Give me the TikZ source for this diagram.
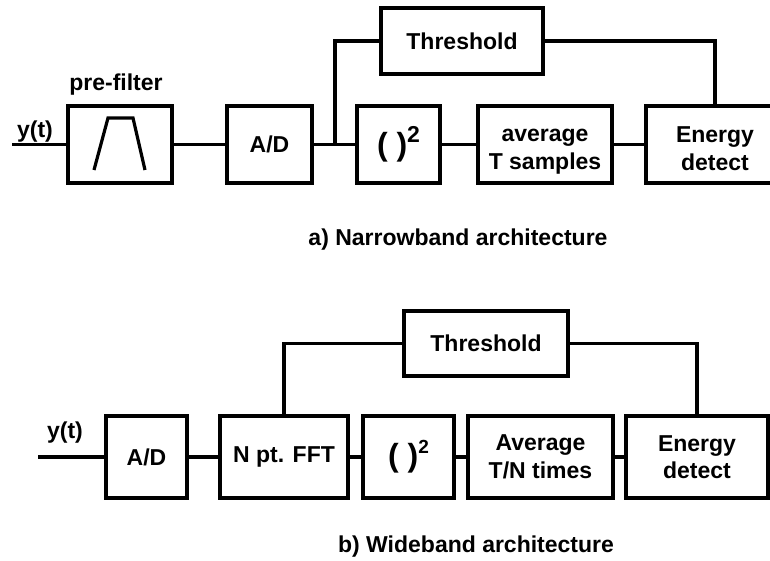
\documentclass[tikz,border=0pt]{standalone}
\usepackage{fontspec}
\setmainfont{Liberation Sans}
\usetikzlibrary{positioning}
\newcommand{\boxfont}{\fontsize{23}{27.5}\selectfont\bfseries}
\newcommand{\sqlabel}[1]{{\fontsize{32}{32}\selectfont( )}\raisebox{13pt}{\fontsize{#1}{#1}\selectfont 2}}
\newcommand{\textdrop}[1]{\rule{0pt}{#1}}
\tikzstyle{block} = [rectangle, draw=black, line width=3.8pt,
    minimum height=77pt, inner sep=2pt, outer sep=0pt,
    align=center, font=\boxfont]
\tikzstyle{wire}  = [line width=3.8pt]
\tikzstyle{lbl}   = [inner sep=0pt, font=\boxfont]

\begin{document}
\begin{tikzpicture}[x=1pt, y=-1pt]
  \useasboundingbox (0,0) rectangle (770,561);
  \clip (0,0) rectangle (770,561);

  % a) Narrowband
  \coordinate (inA) at (12,144.5);
  \node[lbl] (ylblA) at (35,132) {y(t)};
  \node[block, minimum width=104pt] (pref) at (120,144.5) {};
  \node[lbl] (preflbl) at (116,85) {pre-filter};
  \node[block, minimum width=85pt, right=55pt of pref] (adA) {A/D};
  \node[block, minimum width=83pt, right=45pt of adA] (sqA) {\sqlabel{23}};
  \node[block, minimum width=134pt, right=38pt of sqA] (avgA) {\textdrop{27pt}average\\T samples};
  \node[block, minimum width=138pt, right=34pt of avgA] (enA) {\textdrop{24pt}Energy\\detect};
  \node[block, minimum width=162pt, minimum height=66pt] (thrA) at (462,41) {Threshold};
  \coordinate (brA) at (335,144.5);

  % filter shape
  \draw[wire, line width=3.2pt] ([shift={(-26,25.5)}]pref.center) -- ([shift={(-12,-26.5)}]pref.center)
      -- ([shift={(13,-26.5)}]pref.center) -- ([shift={(25,25.5)}]pref.center);

  \draw[wire](inA)--(pref);
  \draw[wire](pref)--(adA);
  \draw[wire](adA)--(sqA);
  \draw[wire](sqA)--(avgA);
  \draw[wire](avgA)--(enA);
  \draw[wire](brA) |- (thrA);
  \draw[wire](thrA) -| (enA);

  \node[lbl] (capA) at (458,240) {a) Narrowband architecture};

  % b) Wideband
  \coordinate (inB) at (38,457);
  \node[lbl] (ylblB) at (65,433) {y(t)};
  \node[block, minimum width=81pt, minimum height=82pt] (adB) at (146.5,457) {A/D};
  \node[block, minimum width=128pt, minimum height=82pt, right=33pt of adB] (fftB) {N pt. FFT};
  \node[block, minimum width=91pt, minimum height=82pt, right=15pt of fftB] (sqB) {\sqlabel{19}};
  \node[block, minimum width=145pt, minimum height=82pt, right=14pt of sqB] (avgB) {Average\\T/N times};
  \node[block, minimum width=142pt, minimum height=82pt, right=13pt of avgB] (enB) {Energy\\detect};
  \node[block, minimum width=164pt, minimum height=65pt] (thrB) at (486,343.5) {Threshold};

  \draw[wire](inB)--(adB);
  \draw[wire](adB)--(fftB);
  \draw[wire](fftB)--(sqB);
  \draw[wire](sqB)--(avgB);
  \draw[wire](avgB)--(enB);
  \draw[wire](fftB) |- (thrB);
  \draw[wire](thrB) -| (enB);

  \node[lbl] (capB) at (476,547) {b) Wideband architecture};
\end{tikzpicture}
\end{document}
